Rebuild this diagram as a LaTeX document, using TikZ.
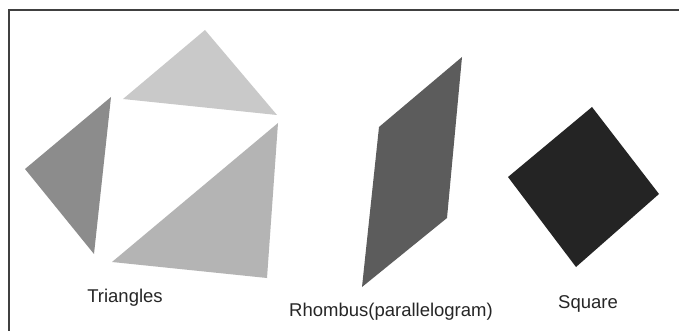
\documentclass[tikz,border=0pt]{standalone}
\usepackage{fontspec}
\setmainfont{Liberation Sans}
\begin{document}
\begin{tikzpicture}[x=1pt,y=-1pt,
  piece/.style={draw=none},
  lbl/.style={font=\fontsize{18.5}{20}\selectfont, text=black!85, inner sep=0pt, anchor=center}]
\definecolor{trimid}{HTML}{8C8C8C}
\definecolor{trilight}{HTML}{C9C9C9}
\definecolor{trilow}{HTML}{B4B4B4}
\definecolor{rhomb}{HTML}{5C5C5C}
\definecolor{sq}{HTML}{242424}
\useasboundingbox (0,0) rectangle (679,331);
\fill[white] (0,0) rectangle (679,331);
% frame (top and left edges)
\coordinate (tl) at (9,10);
\coordinate (tr) at (679,10);
\coordinate (bl) at (9,331);
\draw[line width=1.4pt, black!75] (tr) -- (tl) -- (bl);
% triangles
\fill[piece, trimid] (111,97) -- (25,169) -- (94,254) -- cycle;
\fill[piece, trilight] (205,30) -- (123,99) -- (277,115) -- cycle;
\fill[piece, trilow] (278,123) -- (112,262) -- (267,278) -- cycle;
% rhombus
\fill[piece, rhomb] (462,57) -- (379,127) -- (362,287) -- (447,218) -- cycle;
% square
\fill[piece, sq] (592,107) -- (508,177) -- (576,267) -- (659,194) -- cycle;
% labels
\node[lbl] (t1) at (125,298) {Triangles};
\node[lbl] (t2) at (391,312) {Rhombus(parallelogram)};
\node[lbl] (t3) at (588,304) {Square};
\end{tikzpicture}
\end{document}
